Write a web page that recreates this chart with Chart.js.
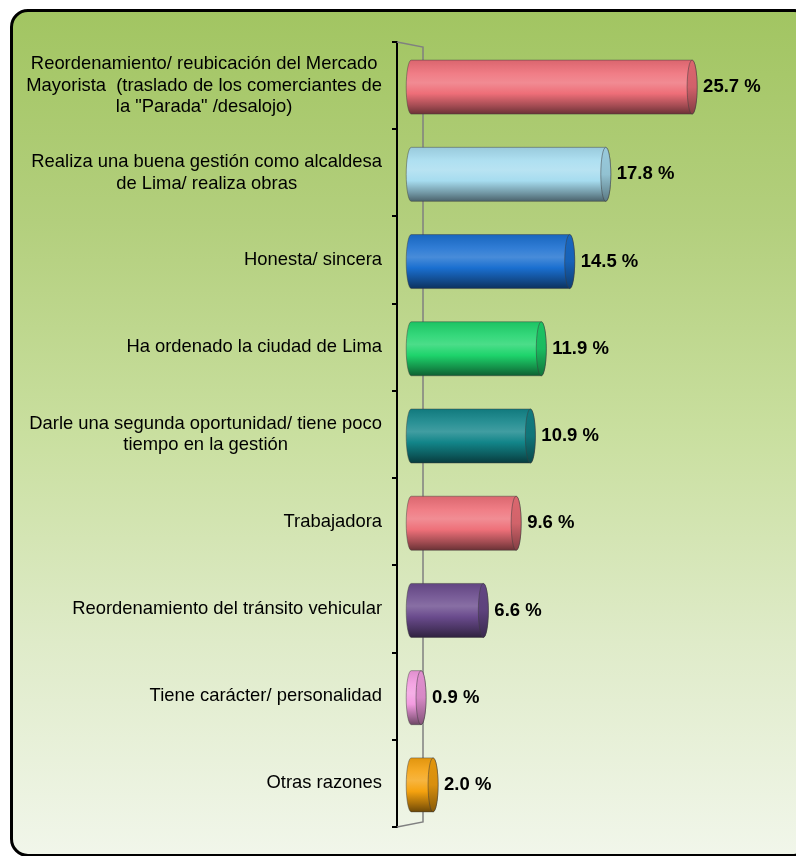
<!DOCTYPE html>
<html>
<head>
<meta charset="utf-8">
<script src="https://cdn.jsdelivr.net/npm/chart.js@4"></script>
<style>
  html, body { margin: 0; padding: 0; background: #fff; overflow: hidden; }
  #frame {
    position: absolute; left: 10px; top: 9px;
    width: 796px; height: 842px;
    border: 3px solid #000; border-radius: 18px;
    background: linear-gradient(180deg, #a2c562 0%, #b3cf7d 25%, #c9df9f 50%, #dfebc9 75%, #f1f6ea 100%);
  }
  #chart { position: absolute; left: 0; top: 0; }
</style>
</head>
<body>
<div id="frame"></div>
<canvas id="chart" width="796" height="856"></canvas>
<script>
const categories = [
  ['Reordenamiento/ reubicación del Mercado', 'Mayorista  (traslado de los comerciantes de', 'la "Parada" /desalojo)'],
  ['Realiza una buena gestión como alcaldesa', 'de Lima/ realiza obras'],
  'Honesta/ sincera',
  'Ha ordenado la ciudad de Lima',
  ['Darle una segunda oportunidad/ tiene poco', 'tiempo en la gestión'],
  'Trabajadora',
  'Reordenamiento del tránsito vehicular',
  'Tiene carácter/ personalidad',
  'Otras razones'
];
const values = [25.7, 17.8, 14.5, 11.9, 10.9, 9.6, 6.6, 0.9, 2.0];
const barColors = ['#ee6e78', '#a6dcef', '#1a6fd0', '#1ed46c', '#128589', '#ee7079', '#6a4b8d', '#f39be0', '#f5a20f'];

const LABEL_FONT = '18.4px "Liberation Sans", Arial, sans-serif';
const VALUE_FONT = 'bold 18.5px "Liberation Sans", Arial, sans-serif';
const RX = 5;      // cylinder end radius
const DY = 1.5;    // depth shift of the bars

// mix a hex colour with white (f > 0) or black (f < 0)
function shade(hex, f) {
  const n = parseInt(hex.slice(1), 16);
  let r = n >> 16, g = (n >> 8) & 255, b = n & 255;
  const t = f < 0 ? 0 : 255, p = Math.abs(f);
  r = Math.round(r + (t - r) * p);
  g = Math.round(g + (t - g) * p);
  b = Math.round(b + (t - b) * p);
  return `rgb(${r},${g},${b})`;
}

const wallPlugin = {
  id: 'wall',
  beforeDatasetsDraw(chart) {
    const {ctx, chartArea: a} = chart;
    ctx.save();
    ctx.strokeStyle = '#808080';
    ctx.lineWidth = 1.5;
    ctx.beginPath();
    ctx.moveTo(a.left, a.top);
    ctx.lineTo(a.left + 26, a.top + 5);
    ctx.lineTo(a.left + 26, a.bottom - 5);
    ctx.lineTo(a.left, a.bottom);
    ctx.stroke();
    ctx.restore();
  }
};

const cylinderPlugin = {
  id: 'cylinders',
  afterDatasetsDraw(chart) {
    const ctx = chart.ctx;
    const meta = chart.getDatasetMeta(0);
    meta.data.forEach((el, i) => {
      const c = barColors[i];
      const x0 = el.base, x1 = el.x, y = el.y + DY;
      const h = el.height, ry = h / 2;
      const top = y - ry, bot = y + ry;

      const g = ctx.createLinearGradient(0, top, 0, bot);
      g.addColorStop(0, shade(c, -0.08));
      g.addColorStop(0.25, shade(c, 0.1));
      g.addColorStop(0.42, shade(c, 0.2));
      g.addColorStop(0.62, shade(c, 0.0));
      g.addColorStop(0.85, shade(c, -0.32));
      g.addColorStop(1, shade(c, -0.55));

      ctx.save();
      ctx.beginPath();
      ctx.moveTo(x0, top);
      ctx.lineTo(x1, top);
      ctx.ellipse(x1, y, RX, ry, 0, -Math.PI / 2, Math.PI / 2, false);
      ctx.lineTo(x0, bot);
      ctx.ellipse(x0, y, RX, ry, 0, Math.PI / 2, Math.PI * 1.5, false);
      ctx.closePath();
      ctx.fillStyle = g;
      ctx.fill();
      ctx.strokeStyle = 'rgba(60,60,60,0.45)';
      ctx.lineWidth = 1;
      ctx.stroke();

      const gc = ctx.createLinearGradient(0, top, 0, bot);
      gc.addColorStop(0, shade(c, -0.08));
      gc.addColorStop(0.5, shade(c, -0.12));
      gc.addColorStop(1, shade(c, -0.45));
      ctx.beginPath();
      ctx.ellipse(x1, y, RX, ry, 0, 0, Math.PI * 2);
      ctx.fillStyle = gc;
      ctx.fill();
      ctx.strokeStyle = 'rgba(60,60,60,0.5)';
      ctx.stroke();

      ctx.fillStyle = '#000';
      ctx.font = VALUE_FONT;
      ctx.textAlign = 'left';
      ctx.textBaseline = 'middle';
      ctx.fillText(values[i].toFixed(1) + ' %', x1 + RX + 6, y);
      ctx.restore();
    });
  }
};

const labelPlugin = {
  id: 'catLabels',
  afterDraw(chart) {
    const ctx = chart.ctx;
    const scale = chart.scales.y;
    const right = chart.chartArea.left - 15;
    const lh = 21.5;
    ctx.save();
    ctx.font = LABEL_FONT;
    ctx.fillStyle = '#000';
    ctx.textBaseline = 'middle';
    categories.forEach((lab, i) => {
      const lines = Array.isArray(lab) ? lab : [lab];
      const yc = scale.getPixelForTick(i);
      const w = Math.max(...lines.map(l => ctx.measureText(l).width));
      let x = right;
      if (lines.length > 1) { ctx.textAlign = 'center'; x = right - w / 2; }
      else ctx.textAlign = 'right';
      lines.forEach((l, k) => {
        ctx.fillText(l, x, yc + (k - (lines.length - 1) / 2) * lh);
      });
    });
    ctx.restore();
  }
};

new Chart(document.getElementById('chart'), {
  type: 'bar',
  data: {
    labels: categories,
    datasets: [{
      data: values,
      backgroundColor: 'rgba(0,0,0,0)',
      borderWidth: 0,
      barThickness: 54
    }]
  },
  options: {
    indexAxis: 'y',
    responsive: false,
    animation: false,
    layout: { padding: { top: 42, bottom: 29, left: 0, right: 16 } },
    plugins: { legend: { display: false }, tooltip: { enabled: false } },
    scales: {
      x: { display: false, min: -1.3, max: 33.74 },
      y: {
        grid: { drawOnChartArea: false, offset: true, color: '#000', lineWidth: 2, tickLength: 5 },
        border: { display: true, color: '#000', width: 2 },
        ticks: { display: false },
        afterFit(s) { s.width = 397; }
      }
    }
  },
  plugins: [wallPlugin, cylinderPlugin, labelPlugin]
});
</script>
</body>
</html>
